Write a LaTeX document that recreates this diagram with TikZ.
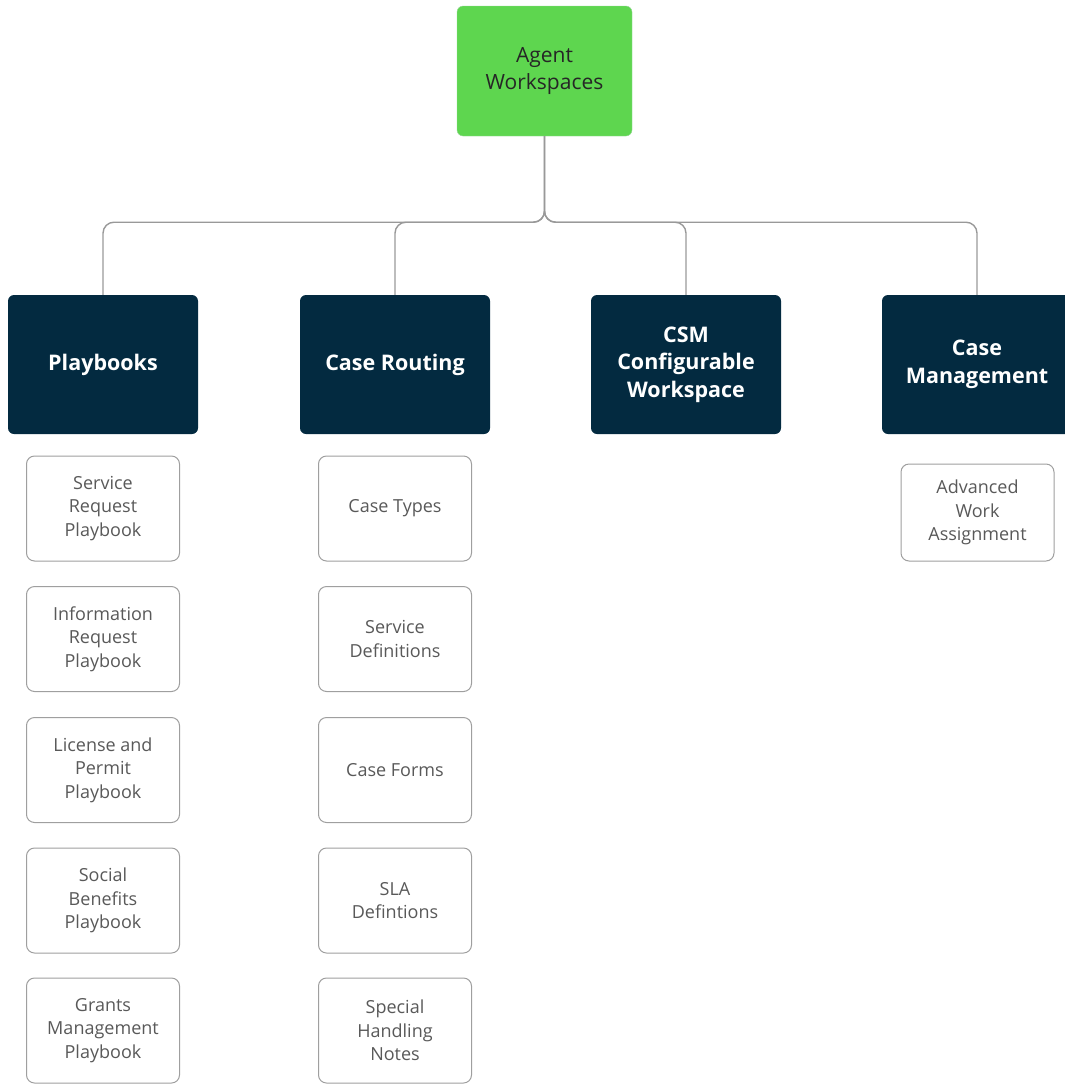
\documentclass[tikz,border=0pt]{standalone}
\usepackage{fontspec}
\setmainfont{Open Sans}
\begin{document}
\begin{tikzpicture}[x=1pt,y=1pt,
  rootbox/.style={draw=green!60!black!40!white, fill=rootgreen, rounded corners=6, minimum width=175, minimum height=130, align=center, text=black!85, font=\fontsize{21}{27}\selectfont},
  catbox/.style={fill=navy, rounded corners=6, minimum width=190, minimum height=139, align=center, text=white, font=\fontsize{21.5}{27.5}\selectfont\bfseries},
  leafbox/.style={draw=gray!75, line width=1, fill=white, rounded corners=8, minimum width=153, minimum height=105, align=center, text=black!65, font=\fontsize{18}{23.5}\selectfont},
  conn/.style={draw=gray!80, line width=1.4, rounded corners=11}
]
\definecolor{rootgreen}{HTML}{5ED64F}
\definecolor{navy}{HTML}{032A40}
\useasboundingbox (0,0) rectangle (1065,-1085);
\clip (0,0) rectangle (1065,-1085);

\node[rootbox] (root) at (544.5,-71) {Agent\\Workspaces};

\node[catbox] (pb) at (103,-364.5) {Playbooks};
\node[catbox] (cr) at (395,-364.5) {Case Routing};
\node[catbox] (csm) at (686,-364.5) {CSM\\Configurable\\Workspace};
\node[catbox] (cm) at (977,-364.5) {Case\\Management};

\draw[conn] (root.south) -- ++(0,-86) -| (pb.north);
\draw[conn] (root.south) -- ++(0,-86) -| (cr.north);
\draw[conn] (root.south) -- ++(0,-86) -| (csm.north);
\draw[conn] (root.south) -- ++(0,-86) -| (cm.north);

\node[leafbox] (pb1) at (103,-508.5) {Service\\Request\\Playbook};
\node[leafbox] (pb2) at (103,-639) {Information\\Request\\Playbook};
\node[leafbox] (pb3) at (103,-770) {License and\\Permit\\Playbook};
\node[leafbox] (pb4) at (103,-900.5) {Social\\Benefits\\Playbook};
\node[leafbox] (pb5) at (103,-1030.5) {Grants\\Management\\Playbook};

\node[leafbox] (cr1) at (395,-508.5) {Case Types};
\node[leafbox] (cr2) at (395,-639) {Service\\Definitions};
\node[leafbox] (cr3) at (395,-770) {Case Forms};
\node[leafbox] (cr4) at (395,-900.5) {SLA\\Defintions};
\node[leafbox] (cr5) at (395,-1030.5) {Special\\Handling\\Notes};

\node[leafbox, minimum height=97] (cm1) at (977.5,-512.5) {Advanced\\Work\\Assignment};
\end{tikzpicture}
\end{document}
